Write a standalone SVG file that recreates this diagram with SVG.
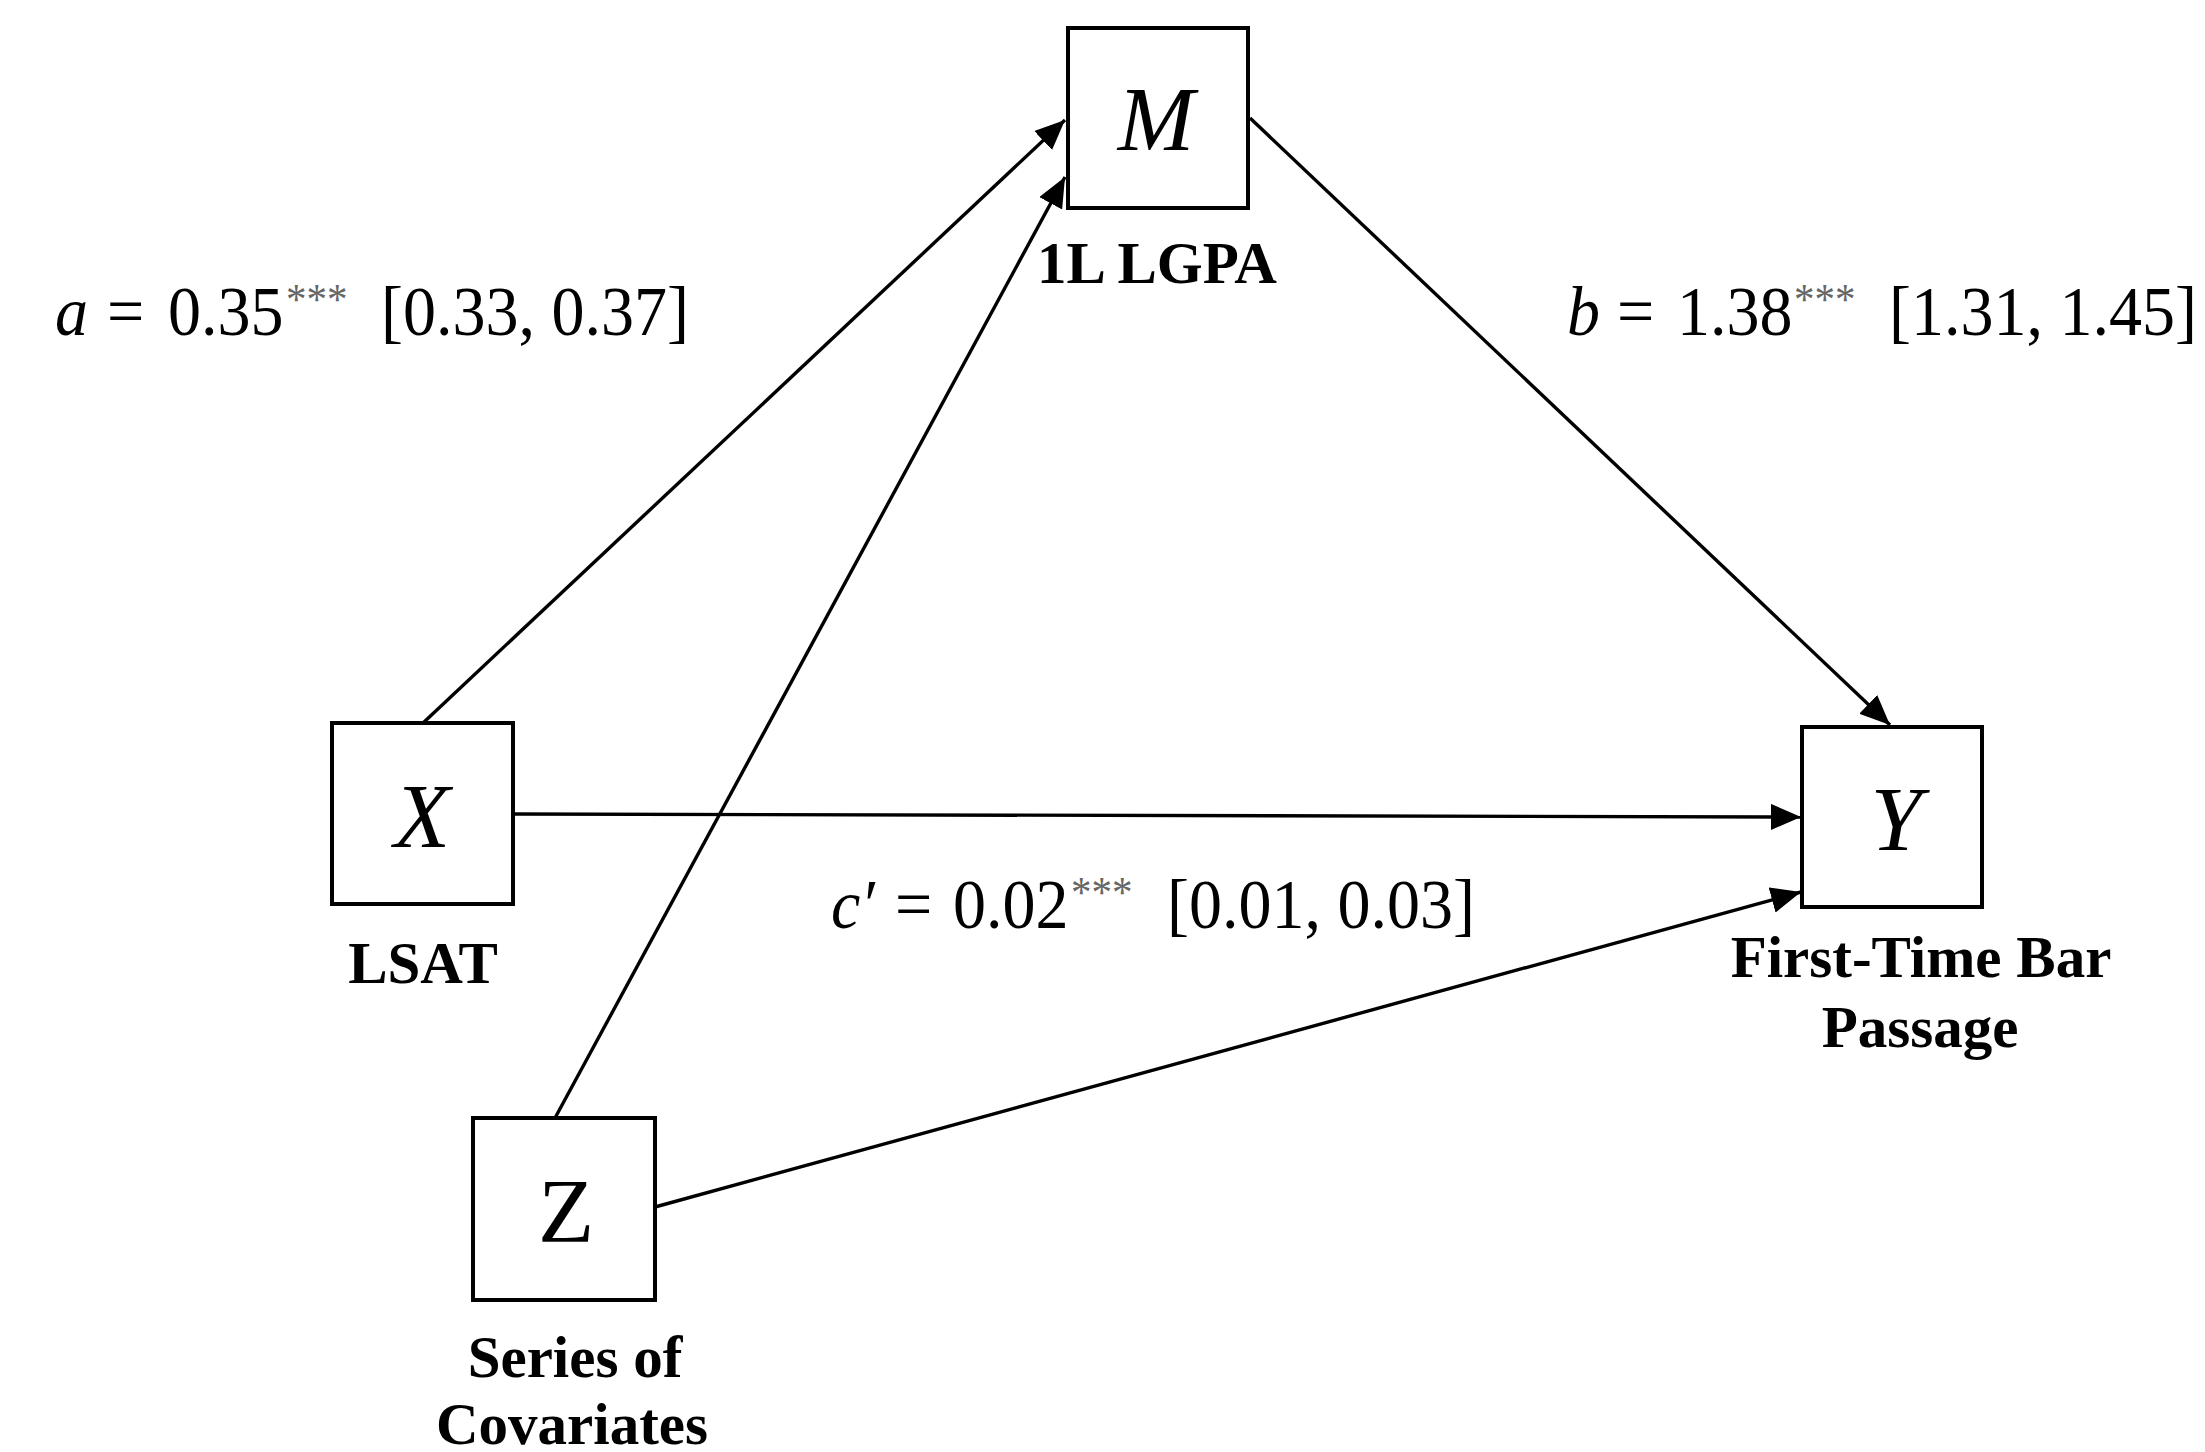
<svg xmlns="http://www.w3.org/2000/svg" width="2205" height="1452" viewBox="0 0 2205 1452">
<defs>
<style>
.box{fill:#fff;stroke:#000;stroke-width:4}
.edge{fill:none;stroke:#000;stroke-width:3.4}
.var{font-family:"Liberation Serif","Times New Roman",serif;font-size:92px;text-anchor:middle;fill:#000}
.it{font-style:italic}
.lbl{font-family:"Liberation Serif","Times New Roman",serif;font-size:59px;font-weight:bold;text-anchor:middle;fill:#000}
.eq{font-family:"Liberation Serif","Times New Roman",serif;font-size:66px;fill:#000}
.sup{font-family:"Liberation Serif","Times New Roman",serif;font-size:41px;fill:#666}
</style>
<marker id="arr" markerUnits="userSpaceOnUse" markerWidth="32" markerHeight="28" refX="30" refY="13" orient="auto" viewBox="0 0 32 28">
<path d="M0,0 L30,13 L0,26 Z" fill="#000"/>
</marker>
</defs>
<rect width="2205" height="1452" fill="#fff"/>
<g id="connectors">
<line class="edge" x1="423" y1="723" x2="1065" y2="120" marker-end="url(#arr)"/>
<line class="edge" x1="555" y1="1118" x2="1065" y2="177" marker-end="url(#arr)"/>
<line class="edge" x1="1250" y1="118" x2="1890" y2="725" marker-end="url(#arr)"/>
<line class="edge" x1="513" y1="814" x2="1801" y2="817" marker-end="url(#arr)"/>
<line class="edge" x1="655" y1="1207" x2="1801" y2="892" marker-end="url(#arr)"/>
</g>
<g id="node-M">
<rect class="box" x="1068" y="28" width="180" height="180"/>
<text class="var it" x="1156" y="150">M</text>
<text class="lbl" x="1157" y="283">1L LGPA</text>
</g>
<g id="node-X">
<rect class="box" x="332" y="723" width="181" height="181"/>
<text class="var it" x="422" y="847">X</text>
<text class="lbl" x="423" y="983">LSAT</text>
</g>
<g id="node-Y">
<rect class="box" x="1802" y="727" width="180" height="180"/>
<text class="var it" x="1896" y="850">Y</text>
<text class="lbl" x="1921" y="977">First-Time Bar</text>
<text class="lbl" x="1920" y="1047">Passage</text>
</g>
<g id="node-Z">
<rect class="box" x="473" y="1118" width="182" height="182"/>
<text class="var" x="566" y="1242">Z</text>
<text class="lbl" x="575" y="1377">Series of</text>
<text class="lbl" x="572" y="1444">Covariates</text>
</g>
<g id="label-a" transform="matrix(1 0 0 1.06 0 -20.1)">
<text class="eq it" x="55" y="335">a</text>
<text class="eq" x="107" y="335">=</text>
<text class="eq" x="168" y="335">0.35</text>
<text class="sup" x="286" y="315">***</text>
<text class="eq" x="381" y="335">[0.33, 0.37]</text>
</g>
<g id="label-b" transform="matrix(1 0 0 1.06 0 -20.1)">
<text class="eq it" x="1567" y="335">b</text>
<text class="eq" x="1617" y="335">=</text>
<text class="eq" x="1677" y="335">1.38</text>
<text class="sup" x="1794" y="315">***</text>
<text class="eq" x="1889" y="335">[1.31, 1.45]</text>
</g>
<g id="label-c" transform="matrix(1 0 0 1.06 0 -55.7)">
<text class="eq it" x="831" y="928">c′</text>
<text class="eq" x="895" y="928">=</text>
<text class="eq" x="953" y="928">0.02</text>
<text class="sup" x="1071" y="908">***</text>
<text class="eq" x="1167" y="928">[0.01, 0.03]</text>
</g>
</svg>
